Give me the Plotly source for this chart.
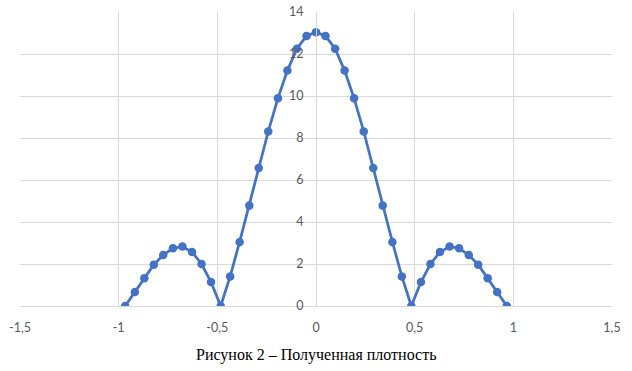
import plotly.graph_objects as go

x_vals = [-0.967, -0.918, -0.870, -0.822, -0.774, -0.725, -0.677, -0.628, -0.580, -0.532,
          -0.483, -0.435, -0.387, -0.338, -0.290, -0.242, -0.193, -0.145, -0.097, -0.048,
          0.0,
          0.048, 0.097, 0.145, 0.193, 0.242, 0.290, 0.338, 0.387, 0.435, 0.483,
          0.532, 0.580, 0.628, 0.677, 0.725, 0.774, 0.822, 0.870, 0.918, 0.967]
y_vals = [0.0, 0.67, 1.32, 1.97, 2.43, 2.75, 2.83, 2.57, 2.0, 1.14,
          0.0, 1.41, 3.05, 4.78, 6.57, 8.31, 9.89, 11.21, 12.25, 12.86,
          13.04,
          12.86, 12.25, 11.21, 9.89, 8.31, 6.57, 4.78, 3.05, 1.41, 0.0,
          1.14, 2.0, 2.57, 2.83, 2.75, 2.43, 1.97, 1.32, 0.67, 0.0]

x_tickvals = [-1.5, -1.0, -0.5, 0.0, 0.5, 1.0, 1.5]
x_ticktext = ["-1,5", "-1", "-0,5", "0", "0,5", "1", "1,5"]
y_tickvals = [0, 2, 4, 6, 8, 10, 12, 14]
caption = "Рисунок 2 – Полученная плотность"

fig = go.Figure()
fig.add_trace(go.Scatter(
    x=x_vals, y=y_vals, mode="lines+markers",
    line=dict(color="#4472C4", width=2.75),
    marker=dict(color="#4472C4", size=8.5),
    showlegend=False, hoverinfo="skip",
))

tick_font = dict(family="Lato, Noto Sans, sans-serif", size=12.5, color="#595959")
grid = "#d9d9d9"

fig.update_layout(
    width=632, height=371,
    margin=dict(l=20, r=20, t=12, b=65),
    paper_bgcolor="white", plot_bgcolor="white",
    xaxis=dict(
        range=[-1.5, 1.5], tickvals=x_tickvals, ticktext=x_ticktext,
        showgrid=True, gridcolor=grid, gridwidth=1, zeroline=False,
        showline=True, linecolor=grid, linewidth=1, mirror=False,
        ticks="", tickfont=tick_font, ticklabelstandoff=10,
        automargin=False, fixedrange=True,
    ),
    yaxis=dict(
        range=[0, 14], tickvals=y_tickvals,
        showgrid=True, gridcolor=grid, gridwidth=1, zeroline=False,
        anchor="free", position=0.5, side="left",
        showline=True, linecolor=grid, linewidth=1,
        ticks="", tickfont=tick_font, ticklabelstandoff=10,
        automargin=False, fixedrange=True,
    ),
    annotations=[dict(
        text=caption, xref="paper", yref="paper", x=0.5, y=-0.167,
        xanchor="center", yanchor="middle", showarrow=False,
        font=dict(family="Liberation Serif, Times New Roman, serif", size=16, color="black"),
    )],
)

fig.write_html("out.html", config={"displayModeBar": False},
               post_script="document.body.style.margin='0';")
